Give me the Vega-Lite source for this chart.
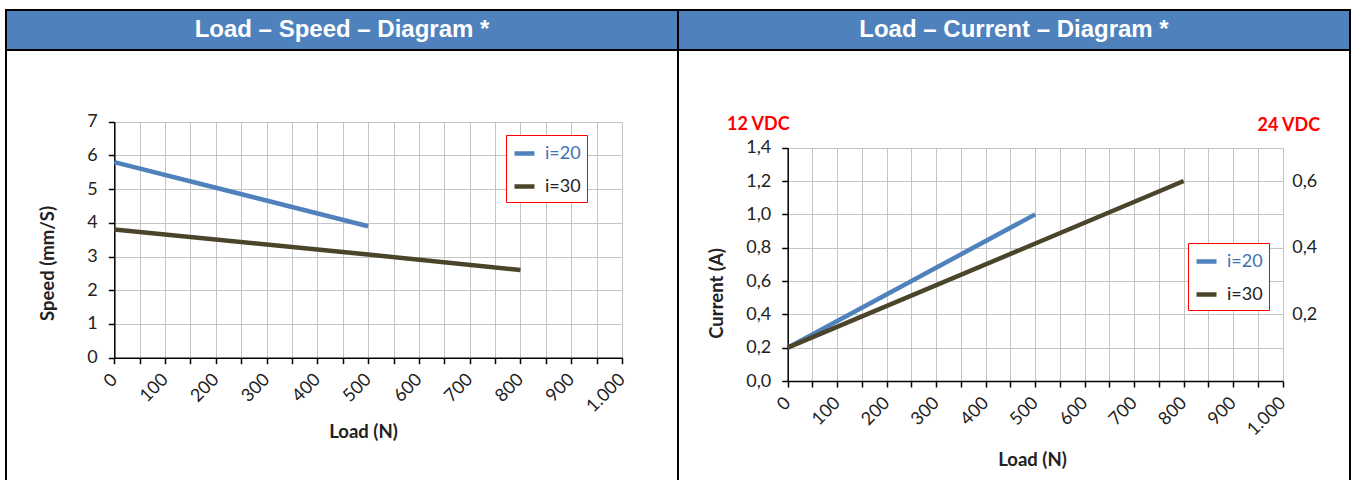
{
  "$schema": "https://vega.github.io/schema/vega-lite/v6.json",
  "padding": {"left": 5, "top": 9, "right": 0, "bottom": 0},
  "background": "white",
  "config": {
    "font": "Lato",
    "view": {"stroke": null},
    "axis": {"labelFont": "Lato", "titleFont": "Lato", "labelColor": "#222222", "titleColor": "#222222"}
  },
  "spacing": 0,
  "bounds": "flush",
  "align": "each",
  "columns": 2,
  "resolve": {"scale": {"color": "independent"}, "legend": {"color": "independent"}},
  "concat": [
    {
      "width": 672,
      "height": 40,
      "view": {"fill": "#4F81BD", "stroke": "black", "strokeWidth": 2},
      "data": {"values": [{"title": "Load – Speed – Diagram *"}]},
      "mark": {"type": "text", "color": "white", "font": "Liberation Sans", "fontWeight": "bold", "fontSize": 24, "baseline": "middle", "align": "center"},
      "encoding": {"text": {"field": "title"}}
    },
    {
      "width": 672,
      "height": 40,
      "view": {"fill": "#4F81BD", "stroke": "black", "strokeWidth": 2},
      "data": {"values": [{"title": "Load – Current – Diagram *"}]},
      "mark": {"type": "text", "color": "white", "font": "Liberation Sans", "fontWeight": "bold", "fontSize": 24, "baseline": "middle", "align": "center"},
      "encoding": {"text": {"field": "title"}}
    },
    {
      "width": 672,
      "height": 440,
      "view": {"fill": "white", "stroke": "black", "strokeWidth": 2},
      "data": {"values": [
        {"load": 0, "speed": 5.8, "series": "i=20"},
        {"load": 200, "speed": 5.04, "series": "i=20"},
        {"load": 500, "speed": 3.9, "series": "i=20"},
        {"load": 0, "speed": 3.8, "series": "i=30"},
        {"load": 500, "speed": 3.06, "series": "i=30"},
        {"load": 800, "speed": 2.6, "series": "i=30"}
      ]},
      "layer": [
        {
          "mark": {"type": "line", "strokeWidth": 4.5},
          "encoding": {
            "x": {
              "field": "load", "type": "quantitative",
              "scale": {"domain": [0, 1000], "range": [108.3, 616], "nice": false, "zero": false},
              "axis": {
                "orient": "bottom", "offset": -132.3, "grid": false,
                "values": [0, 50, 100, 150, 200, 250, 300, 350, 400, 450, 500, 550, 600, 650, 700, 750, 800, 850, 900, 950, 1000],
                "labelExpr": "datum.value == 1000 ? '1.000' : (datum.value % 100 == 0 ? format(datum.value, 'd') : '')",
                "labelAngle": -45, "labelAlign": "right", "labelBaseline": "middle", "labelPadding": 13,
                "labelFontSize": 18, "labelOverlap": false, "labelFlush": false, "labelBound": false,
                "tickSize": 6, "tickColor": "black", "tickWidth": 1.5, "domainColor": "black", "domainWidth": 1.5,
                "title": "Load (N)", "titleFontSize": 18.5, "titleFontWeight": "bold", "titleX": 357, "titleY": 74, "titleBaseline": "middle", "titleAlign": "center"
              }
            },
            "y": {
              "field": "speed", "type": "quantitative",
              "scale": {"domain": [0, 7], "range": [307.7, 71.7], "nice": false},
              "axis": {
                "orient": "left", "offset": -108.3, "grid": true, "gridColor": "#c4c4c4", "gridWidth": 1,
                "values": [0, 1, 2, 3, 4, 5, 6, 7],
                "labelFontSize": 18, "labelPadding": 11,
                "tickSize": 6, "tickColor": "black", "tickWidth": 1.5, "domainColor": "black", "domainWidth": 1.5,
                "title": "Speed (mm/S)", "titleFontSize": 18.5, "titleFontWeight": "bold", "titleX": -67, "titleY": 213, "titleBaseline": "middle", "titleAngle": -90, "titleAlign": "center"
              }
            },
            "color": {
              "field": "series", "type": "nominal",
              "scale": {"domain": ["i=20", "i=30"], "range": ["#4F81BD", "#4A452A"]},
              "legend": {
                "orient": "none", "legendX": 500, "legendY": 85, "title": null, "direction": "vertical",
                "symbolType": "stroke", "symbolStrokeWidth": 4.5, "symbolSize": 400,
                "labelFontSize": 18, "labelFont": "Lato", "labelOffset": 8,
                "strokeColor": "red", "padding": 6, "rowPadding": 11, "fillColor": "white",
                "encode": {"labels": {"update": {"fill": {"signal": "datum.label == 'i=20' ? '#3F72AF' : '#222222'"}}}}
              }
            }
          }
        },
        {
          "mark": {"type": "line", "opacity": 0},
          "encoding": {
            "x": {
              "field": "load", "type": "quantitative",
              "axis": {
                "orient": "top", "grid": true, "gridColor": "#c4c4c4", "gridWidth": 1,
                "values": [0, 50, 100, 150, 200, 250, 300, 350, 400, 450, 500, 550, 600, 650, 700, 750, 800, 850, 900, 950, 1000],
                "labels": false, "ticks": false, "domain": false, "title": null
              }
            },
            "y": {"field": "speed", "type": "quantitative", "axis": null}
          }
        }
      ],
      "resolve": {"axis": {"x": "independent", "y": "independent"}}
    },
    {
      "width": 672,
      "height": 440,
      "view": {"fill": "white", "stroke": "black", "strokeWidth": 2},
      "title": {"text": "12 VDC", "anchor": "start", "frame": "group", "color": "red", "font": "Lato", "fontSize": 18, "fontWeight": "bold", "offset": 0, "dx": 49, "dy": 93, "baseline": "middle"},
      "data": {"values": [
        {"load": 0, "current": 0.2, "series": "i=20"},
        {"load": 500, "current": 1.0, "series": "i=20"},
        {"load": 0, "current": 0.2, "series": "i=30"},
        {"load": 800, "current": 1.2, "series": "i=30"}
      ]},
      "layer": [
        {
          "mark": {"type": "line", "strokeWidth": 4.5},
          "encoding": {
            "x": {
              "field": "load", "type": "quantitative",
              "scale": {"domain": [0, 1000], "range": [109.7, 604.7], "nice": false, "zero": false},
              "axis": {
                "orient": "bottom", "offset": -109, "grid": false,
                "values": [0, 50, 100, 150, 200, 250, 300, 350, 400, 450, 500, 550, 600, 650, 700, 750, 800, 850, 900, 950, 1000],
                "labelExpr": "datum.value == 1000 ? '1.000' : (datum.value % 100 == 0 ? format(datum.value, 'd') : '')",
                "labelAngle": -45, "labelAlign": "right", "labelBaseline": "middle", "labelPadding": 13,
                "labelFontSize": 18, "labelOverlap": false, "labelFlush": false, "labelBound": false,
                "tickSize": 6, "tickColor": "black", "tickWidth": 1.5, "domainColor": "black", "domainWidth": 1.5,
                "title": "Load (N)", "titleFontSize": 18.5, "titleFontWeight": "bold", "titleX": 354, "titleY": 78, "titleBaseline": "middle", "titleAlign": "center"
              }
            },
            "y": {
              "field": "current", "type": "quantitative",
              "scale": {"domain": [0, 1.4], "range": [331, 97.7], "nice": false},
              "axis": {
                "orient": "left", "offset": -109.7, "grid": true, "gridColor": "#c4c4c4", "gridWidth": 1,
                "values": [0, 0.2, 0.4, 0.6, 0.8, 1.0, 1.2, 1.4],
                "labelExpr": "replace(format(datum.value, '.1f'), '.', ',')",
                "labelFontSize": 18, "labelPadding": 11,
                "tickSize": 6, "tickColor": "black", "tickWidth": 1.5, "domainColor": "black", "domainWidth": 1.5,
                "title": "Current (A)", "titleFontSize": 18.5, "titleFontWeight": "bold", "titleX": -71, "titleY": 243, "titleBaseline": "middle", "titleAngle": -90, "titleAlign": "center"
              }
            },
            "color": {
              "field": "series", "type": "nominal",
              "scale": {"domain": ["i=20", "i=30"], "range": ["#4F81BD", "#4A452A"]},
              "legend": {
                "orient": "none", "legendX": 510, "legendY": 193, "title": null, "direction": "vertical",
                "symbolType": "stroke", "symbolStrokeWidth": 4.5, "symbolSize": 400,
                "labelFontSize": 18, "labelFont": "Lato", "labelOffset": 8,
                "strokeColor": "red", "padding": 6, "rowPadding": 11, "fillColor": "white",
                "encode": {"labels": {"update": {"fill": {"signal": "datum.label == 'i=20' ? '#3F72AF' : '#222222'"}}}}
              }
            }
          }
        },
        {
          "mark": {"type": "line", "opacity": 0},
          "encoding": {
            "x": {
              "field": "load", "type": "quantitative",
              "axis": {
                "orient": "top", "grid": true, "gridColor": "#c4c4c4", "gridWidth": 1,
                "values": [0, 50, 100, 150, 200, 250, 300, 350, 400, 450, 500, 550, 600, 650, 700, 750, 800, 850, 900, 950, 1000],
                "labels": false, "ticks": false, "domain": false, "title": null
              }
            },
            "y": {
              "field": "current", "type": "quantitative",
              "axis": {
                "orient": "right", "offset": -67.3, "grid": false,
                "values": [0.4, 0.8, 1.2],
                "labelExpr": "replace(format(datum.value / 2, '.1f'), '.', ',')",
                "labelFontSize": 18, "labelPadding": 9, "ticks": false, "tickSize": 0, "domain": false,
                "title": "24 VDC", "titleColor": "red", "titleFontSize": 18, "titleFontWeight": "bold", "titleAngle": 0,
                "titleX": 5.6, "titleY": 75, "titleBaseline": "middle", "titleAlign": "center"
              }
            }
          }
        }
      ],
      "resolve": {"axis": {"x": "independent", "y": "independent"}}
    }
  ]
}
